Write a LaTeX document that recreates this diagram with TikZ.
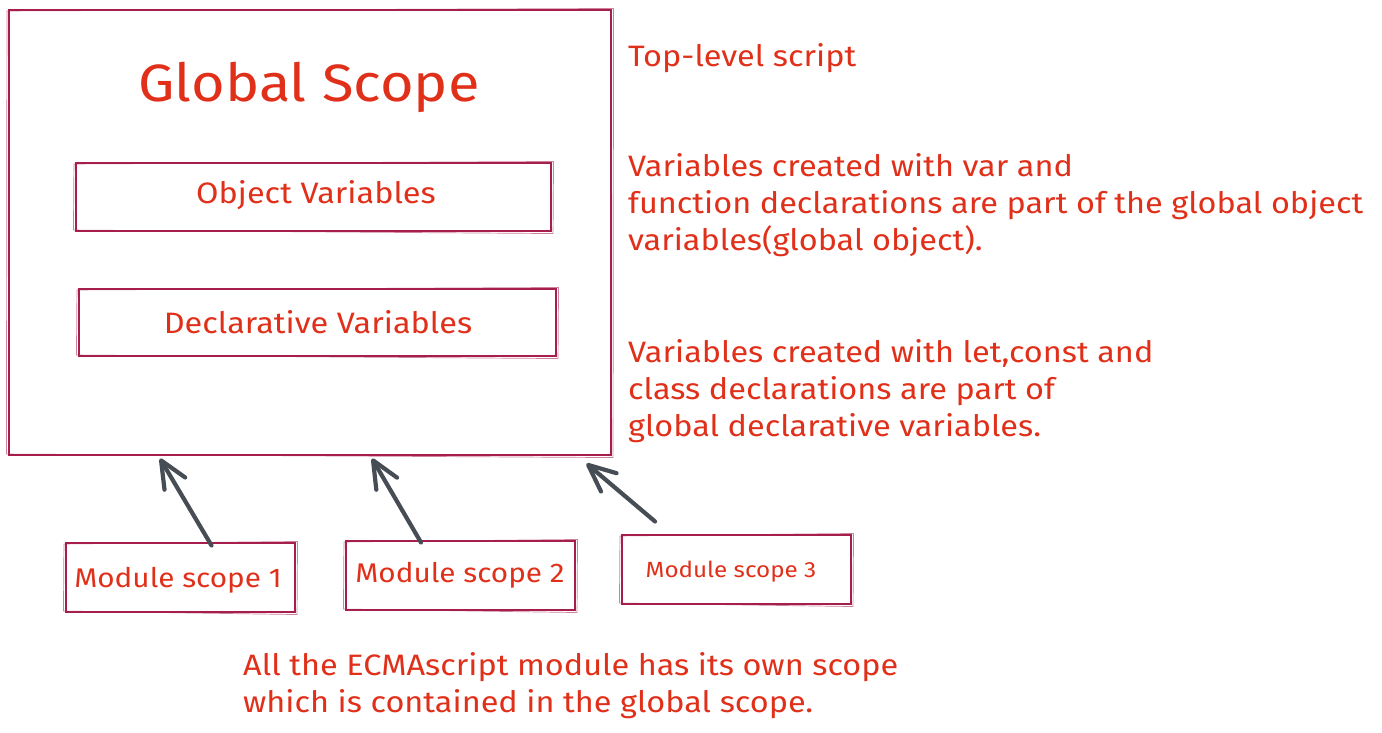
\documentclass[tikz,border=0pt]{standalone}
\usepackage{fontspec}
\setmainfont[FakeStretch=1.1]{Fira Sans}
\usetikzlibrary{arrows.meta}
\definecolor{ink}{HTML}{E0301A}
\definecolor{frame}{HTML}{A61E4D}
\definecolor{pointer}{HTML}{474D54}

% second, slightly skewed outline for a hand-drawn look
\newcommand\roughbox[1]{%
  \draw[frame, line width=0.7pt, opacity=.55]
    ([shift={(-1.5,1.5)}]#1.north west) -- ([shift={(2,-1)}]#1.north east)
    -- ([shift={(1.5,2)}]#1.south east) -- ([shift={(-2,-1.5)}]#1.south west) -- cycle;}

\begin{document}
\begin{tikzpicture}[x=1pt,y=-1pt,
  box/.style={draw=frame, line width=1.1pt, inner sep=0pt},
  txt/.style={text=ink, inner sep=0pt, font=\fontsize{29.5}{37}\selectfont},
  modtxt/.style={txt, anchor=base, font=\fontsize{27}{34}\selectfont},
  para/.style={txt, anchor=base west, align=left},
  arr/.style={draw=pointer, line width=4.2pt, line cap=round,
    -{Straight Barb[length=27pt,width=24pt,line width=4.2pt,round]}}]
\useasboundingbox (0,0) rectangle (1382,732);
\fill[white] (0,0) rectangle (1382,732);

% global scope frame and its two inner boxes
\node[box, minimum width=602pt, minimum height=445pt] (global) at (310,232.5) {};
\roughbox{global}
\node[txt, anchor=base, font=\fontsize{52.5}{60}\selectfont] (title) at (309,101) {Global Scope};

\node[box, minimum width=475pt, minimum height=68pt] (objv) at (313.5,197) {};
\roughbox{objv}
\node[txt, anchor=base] (objt) at (316,203) {Object Variables};

\node[box, minimum width=477pt, minimum height=67pt] (declv) at (317.5,322.5) {};
\roughbox{declv}
\node[txt, anchor=base] (declt) at (318,333) {Declarative Variables};

% module boxes
\node[box, minimum width=229pt, minimum height=69pt] (m1) at (180.5,577.5) {};
\roughbox{m1}
\node[modtxt] (m1t) at (178,587) {Module scope 1};

\node[box, minimum width=229pt, minimum height=69pt] (m2) at (460.5,575.5) {};
\roughbox{m2}
\node[modtxt] (m2t) at (460,582) {Module scope 2};

\node[box, minimum width=229pt, minimum height=69pt] (m3) at (736.5,569.5) {};
\roughbox{m3}
\node[modtxt, font=\fontsize{22}{28}\selectfont] (m3t) at (731,577) {Module scope 3};

% pointers from each module to the global scope
\draw[arr] ([xshift=31pt,yshift=-3pt]m1.north) -- ([xshift=-150pt,yshift=-3pt]global.south);
\draw[arr] ([xshift=-39.5pt,yshift=-2pt]m2.north) -- ([xshift=62pt,yshift=-3pt]global.south);
\draw[arr] ([xshift=-81.5pt,yshift=13pt]m3.north) -- ([xshift=-25pt,yshift=-8pt]global.south east);

% notes (each placed by the baseline of its last line)
\node[para] (n0) at (628,66) {Top-level script};
\node[para] (n1) at (628,250) {Variables created with var and\\function declarations are part of the global object\\variables(global object).};
\node[para] (n2) at (628,436) {Variables created with let,const and\\class declarations are part of\\global declarative variables.};
\node[para] (n3) at (243,712) {All the ECMAscript module has its own scope\\which is contained in the global scope.};
\end{tikzpicture}
\end{document}
